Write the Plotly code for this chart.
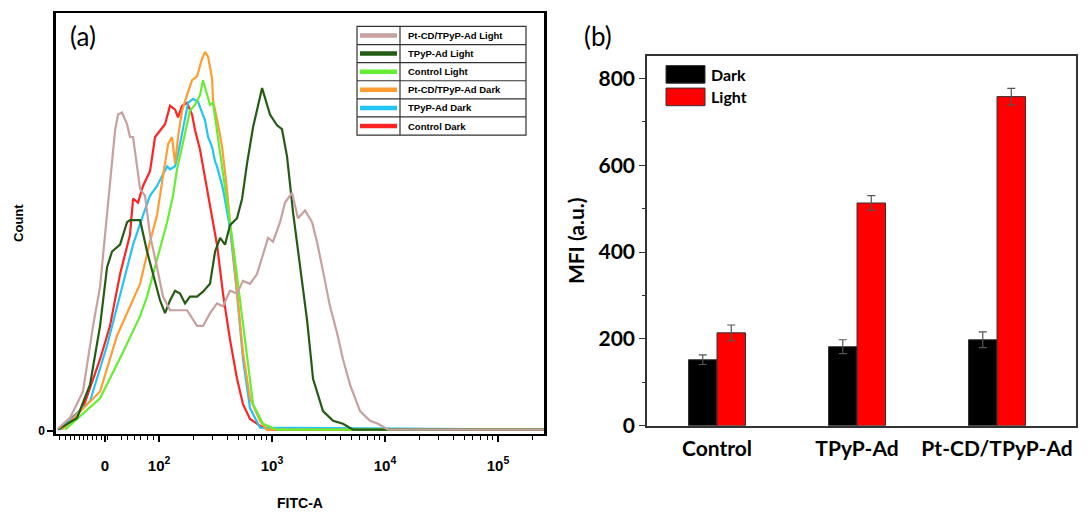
import numpy as np
import plotly.graph_objects as go

W, H = 1091, 517

# ---------------- (a) FITC-A histograms ----------------
# x: position on the biexponential display axis, in decades (2 -> 10^2, 3 -> 10^3 ...)
# y: event count per channel
pt_light_x = [1.106, 1.212, 1.327, 1.416, 1.478, 1.522, 1.566, 1.611, 1.637, 1.673, 1.717, 1.743,
              1.770, 1.805, 1.832, 1.876, 1.920, 1.982, 2.035, 2.097, 2.159, 2.248, 2.336, 2.389,
              2.451, 2.513, 2.566, 2.628, 2.690, 2.743, 2.805, 2.867, 2.920, 2.965, 3.009, 3.071,
              3.115, 3.177, 3.230, 3.292, 3.354, 3.398, 3.451, 3.513, 3.575, 3.628, 3.690, 3.779,
              3.867, 3.938, 4.027, 5.407]
pt_light_y = [2, 13, 40, 107, 147, 200, 250, 307, 323, 325, 313, 300,
              300, 273, 247, 240, 200, 167, 137, 123, 123, 123, 107, 107,
              120, 130, 127, 143, 140, 153, 150, 160, 180, 197, 193, 213,
              233, 243, 217, 225, 213, 193, 163, 127, 100, 73, 47, 20,
              10, 7, 1, 1]

tpyp_light_x = [1.106, 1.274, 1.389, 1.478, 1.540, 1.584, 1.655, 1.717, 1.743, 1.832, 1.894, 1.947,
                2.009, 2.053, 2.097, 2.142, 2.186, 2.230, 2.274, 2.336, 2.389, 2.451, 2.496, 2.540,
                2.584, 2.628, 2.690, 2.735, 2.779, 2.832, 2.912, 2.982, 3.044, 3.088, 3.133, 3.186,
                3.248, 3.310, 3.363, 3.451, 3.540, 3.628, 3.717, 5.407]
tpyp_light_y = [1, 13, 47, 107, 167, 183, 190, 213, 215, 215, 183, 160,
                133, 120, 133, 143, 140, 130, 137, 137, 142, 150, 183, 197,
                190, 210, 217, 237, 273, 310, 350, 323, 312, 308, 280, 223,
                167, 113, 53, 20, 10, 7, 1, 1]

ctrl_light_x = [1.168, 1.478, 1.681, 1.832, 1.894, 1.947, 2.009, 2.071, 2.124, 2.159, 2.204, 2.248,
                2.274, 2.319, 2.363, 2.389, 2.425, 2.451, 2.478, 2.522, 2.566, 2.602, 2.655, 2.717,
                2.779, 2.832, 2.920, 3.044, 5.407]
ctrl_light_y = [1, 33, 80, 117, 137, 160, 187, 213, 240, 267, 290, 313,
                327, 333, 343, 358, 343, 333, 335, 300, 260, 235, 190, 133,
                73, 27, 7, 1, 1]

pt_dark_x = [1.142, 1.478, 1.628, 1.743, 1.832, 1.920, 1.982, 2.035, 2.080, 2.115, 2.142, 2.168,
             2.204, 2.248, 2.292, 2.336, 2.381, 2.407, 2.434, 2.469, 2.478, 2.522, 2.558, 2.593,
             2.628, 2.690, 2.743, 2.805, 2.894, 2.956, 5.407]
pt_dark_y = [1, 40, 97, 127, 150, 193, 220, 260, 293, 300, 273, 300,
             327, 343, 358, 362, 380, 387, 382, 360, 337, 313, 290, 255,
             215, 145, 80, 33, 10, 1, 1]

tpyp_dark_x = [1.124, 1.389, 1.540, 1.655, 1.770, 1.858, 1.920, 1.982, 2.071, 2.097, 2.142, 2.168,
               2.212, 2.257, 2.301, 2.345, 2.381, 2.407, 2.434, 2.469, 2.496, 2.513, 2.566, 2.628,
               2.690, 2.743, 2.805, 2.894, 5.407]
tpyp_dark_y = [1, 30, 87, 140, 190, 220, 240, 250, 270, 267, 270, 283,
               310, 335, 339, 336, 325, 317, 300, 290, 275, 270, 247, 207,
               140, 73, 23, 3, 1]

ctrl_dark_x = [1.106, 1.327, 1.478, 1.566, 1.655, 1.743, 1.770, 1.814, 1.858, 1.920, 1.965, 2.027,
               2.053, 2.097, 2.142, 2.168, 2.204, 2.248, 2.292, 2.319, 2.363, 2.389, 2.451, 2.513,
               2.566, 2.628, 2.690, 2.743, 2.805, 2.894, 2.965, 5.407]
ctrl_dark_y = [1, 23, 73, 107, 160, 200, 237, 233, 250, 265, 300, 310,
               313, 332, 328, 320, 332, 335, 323, 307, 287, 270, 230, 190,
               140, 93, 53, 27, 12, 5, 1, 1]

hist_names = ["Pt-CD/TPyP-Ad Light", "TPyP-Ad Light", "Control Light",
              "Pt-CD/TPyP-Ad Dark", "TPyP-Ad Dark", "Control Dark"]
hist_colors = ["#c8a0a0", "#235c12", "#66ee33", "#ff9d33", "#22c5f3", "#ff2424"]
hist_x = [pt_light_x, tpyp_light_x, ctrl_light_x, pt_dark_x, tpyp_dark_x, ctrl_dark_x]
hist_y = [pt_light_y, tpyp_light_y, ctrl_light_y, pt_dark_y, tpyp_dark_y, ctrl_dark_y]

fitc_tick_pos = [1.522, 2, 3, 4, 5]
fitc_tick_text = ["0", "10<sup>2</sup>", "10<sup>3</sup>", "10<sup>4</sup>", "10<sup>5</sup>"]

# ---------------- (b) mean fluorescence intensity ----------------
groups = ["Control", "TPyP-Ad", "Pt-CD/TPyP-Ad"]
mfi_dark = [152, 182, 198]
mfi_dark_err = [11, 16, 18]
mfi_light = [214, 513, 758]
mfi_light_err = [18, 17, 19]


def xp(x):
    return x / W


def yp(y):
    return 1 - y / H


fig = go.Figure()

# draw from the bottom of the legend upward so the first entry ends on top
for name, color, xs, ys in reversed(list(zip(hist_names, hist_colors, hist_x, hist_y))):
    fig.add_trace(go.Scatter(x=xs, y=ys, mode="lines", name=name,
                             line=dict(color=color, width=2.2),
                             xaxis="x", yaxis="y", showlegend=False))

fig.add_trace(go.Bar(x=groups, y=mfi_dark, name="Dark", xaxis="x2", yaxis="y2",
                     marker=dict(color="#000000", line=dict(color="#333333", width=1)),
                     error_y=dict(type="data", array=mfi_dark_err, color="#555555",
                                  thickness=1.2, width=4),
                     showlegend=False))
fig.add_trace(go.Bar(x=groups, y=mfi_light, name="Light", xaxis="x2", yaxis="y2",
                     marker=dict(color="#ff0000", line=dict(color="#333333", width=1)),
                     error_y=dict(type="data", array=mfi_light_err, color="#555555",
                                  thickness=1.2, width=4),
                     showlegend=False))

# minor ticks of the biexponential axis: linear zone then log decades
lin_minor = [1.118, 1.174, 1.212, 1.250, 1.292, 1.330, 1.369, 1.407, 1.449, 1.487, 1.513,
             1.542, 1.664, 1.723, 1.781, 1.835, 1.896, 1.950]
log_minor = [d + np.log10(k) for d in (2, 3, 4, 5) for k in range(2, 10)
             if d + np.log10(k) < 5.40]
fitc_minor = lin_minor + [float(v) for v in log_minor]

arial_b = dict(family="Arial, Liberation Sans, sans-serif", color="black", weight="bold")
lato_b = dict(family="Lato, sans-serif", color="black", weight="bold")

fig.update_layout(
    width=W, height=H,
    margin=dict(l=0, r=0, t=0, b=0),
    paper_bgcolor="white", plot_bgcolor="white",
    showlegend=False,
    barmode="group", bargap=0.593, bargroupgap=0,
    xaxis=dict(domain=[xp(56), xp(544)], range=[1.088, 5.407], anchor="y",
               showgrid=False, zeroline=False,
               showline=True, linecolor="black", linewidth=2, mirror=True,
               tickmode="array", tickvals=fitc_tick_pos, ticktext=fitc_tick_text,
               ticks="outside", ticklen=6, tickwidth=1.5, tickcolor="black",
               ticklabelstandoff=11,
               tickfont=dict(size=15, **arial_b),
               minor=dict(tickmode="array", tickvals=fitc_minor, ticks="outside",
                          ticklen=4, tickwidth=1, tickcolor="black"),
               title=dict(text="FITC-A", font=dict(size=14, **arial_b), standoff=26)),
    yaxis=dict(domain=[yp(443), yp(13)], range=[-3, 427], anchor="x",
               showgrid=False, zeroline=False,
               showline=True, linecolor="black", linewidth=2.5, mirror=True,
               tickmode="array", tickvals=[0], ticktext=["0"],
               ticks="outside", ticklen=6, tickwidth=1.5, tickcolor="black",
               tickfont=dict(size=12, **arial_b),
               title=dict(text="Count", font=dict(size=13, **arial_b), standoff=12)),
    xaxis2=dict(domain=[xp(647), xp(1076)], range=[-0.5, 2.564], anchor="y2",
                type="category", showgrid=False, zeroline=False,
                showline=True, linecolor="#333333", linewidth=1.5, mirror=True,
                ticks="", ticklabelstandoff=3,
                tickfont=dict(size=21, **lato_b)),
    yaxis2=dict(domain=[yp(435), yp(57)], range=[0, 852], anchor="x2",
                showgrid=False, zeroline=False,
                showline=True, linecolor="#333333", linewidth=1.5, mirror=True,
                tickmode="array", tickvals=[0, 200, 400, 600, 800],
                ticks="outside", ticklen=6, tickwidth=1.2, tickcolor="#333333",
                minor=dict(tickmode="array", tickvals=[100, 300, 500, 700], ticks="outside",
                           ticklen=3, tickwidth=1.2, tickcolor="#333333"),
                tickfont=dict(size=21, **lato_b),
                title=dict(text="MFI (a.u.)", font=dict(size=21, **lato_b), standoff=8)),
)

shapes = []
annotations = []

# legend table of panel (a)
lx0, lx1, ldiv, ly0, ly1 = 357, 526, 400, 27, 138
row_h = (ly1 - ly0) / len(hist_names)
shapes.append(dict(type="rect", xref="paper", yref="paper",
                   x0=xp(lx0), x1=xp(lx1), y0=yp(ly1), y1=yp(ly0),
                   line=dict(color="#333333", width=1.2), fillcolor="white", layer="above"))
shapes.append(dict(type="line", xref="paper", yref="paper",
                   x0=xp(ldiv), x1=xp(ldiv), y0=yp(ly1), y1=yp(ly0),
                   line=dict(color="#333333", width=1.2), layer="above"))
for i, (name, color) in enumerate(zip(hist_names, hist_colors)):
    top = ly0 + i * row_h
    mid = top + row_h / 2
    if i > 0:
        shapes.append(dict(type="line", xref="paper", yref="paper",
                           x0=xp(lx0), x1=xp(lx1), y0=yp(top), y1=yp(top),
                           line=dict(color="#333333", width=1.2), layer="above"))
    shapes.append(dict(type="line", xref="paper", yref="paper",
                       x0=xp(lx0 + 3), x1=xp(ldiv - 3), y0=yp(mid), y1=yp(mid),
                       line=dict(color=color, width=4.5), layer="above"))
    annotations.append(dict(text=name, xref="paper", yref="paper",
                            x=xp(406), y=yp(mid), xanchor="left", yanchor="middle",
                            showarrow=False, font=dict(size=9.5, **arial_b)))

# legend of panel (b): swatches and labels in the top-left corner
for name, color, top in (("Dark", "#000000", 67), ("Light", "#ff0000", 90)):
    shapes.append(dict(type="rect", xref="paper", yref="paper",
                       x0=xp(666), x1=xp(705), y0=yp(top + 18), y1=yp(top),
                       line=dict(color="#333333", width=1), fillcolor=color, layer="above"))
    annotations.append(dict(text=name, xref="paper", yref="paper",
                            x=xp(709), y=yp(top + 9), xanchor="left", yanchor="middle",
                            showarrow=False, font=dict(size=16, **lato_b)))

# panel letters
annotations.append(dict(text="(a)", xref="paper", yref="paper", x=xp(83), y=yp(37),
                        xanchor="center", yanchor="middle", showarrow=False,
                        font=dict(family="Lato, sans-serif", size=26, color="black")))
annotations.append(dict(text="(b)", xref="paper", yref="paper", x=xp(598), y=yp(37),
                        xanchor="center", yanchor="middle", showarrow=False,
                        font=dict(family="Lato, sans-serif", size=26, color="black")))

fig.update_layout(shapes=shapes, annotations=annotations)

fig.write_html("out.html")
